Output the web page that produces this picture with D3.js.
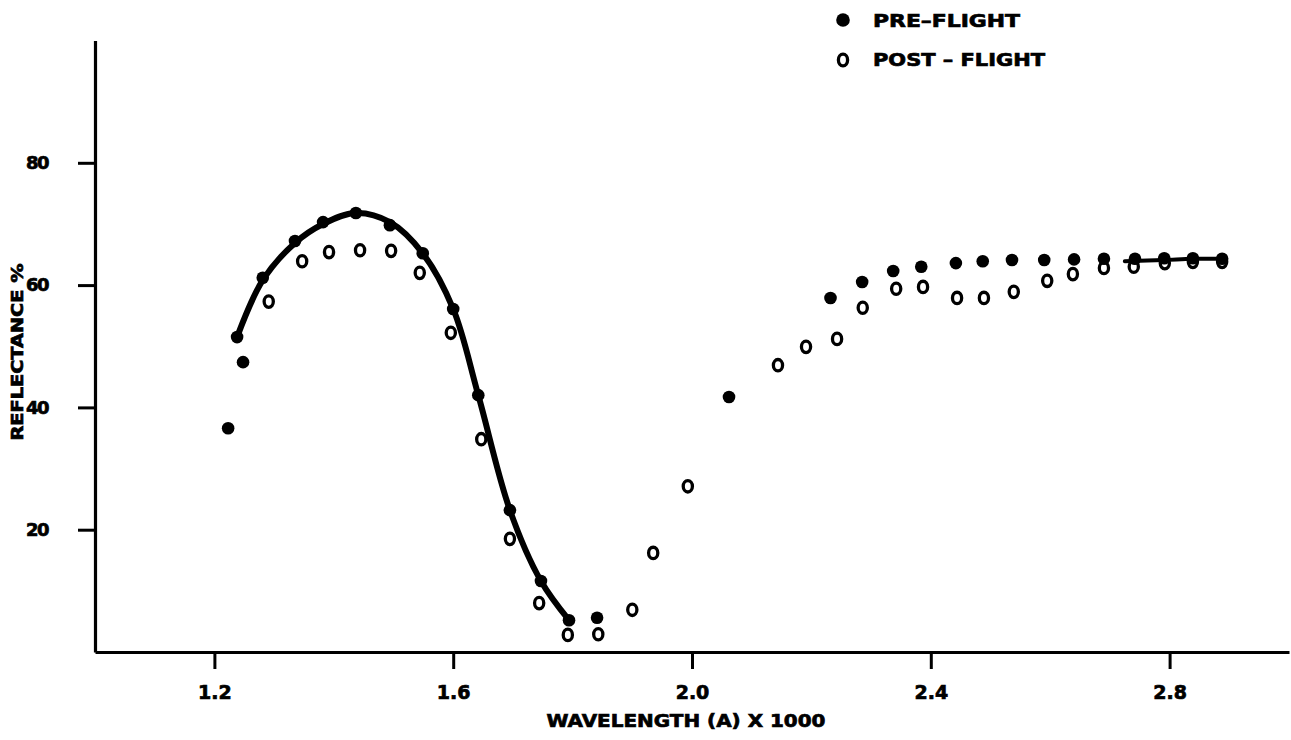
<!DOCTYPE html>
<html>
<head>
<meta charset="utf-8">
<script src="https://cdn.jsdelivr.net/npm/d3@7"></script>
<style>
  body { margin: 0; background: #fff; }
  svg { display: block; }
  text { font-family: "DejaVu Sans", sans-serif; font-weight: bold; fill: #000; stroke: #000; stroke-width: 0.7px; }
</style>
</head>
<body>
<svg id="chart" width="1291" height="740"></svg>
<script>
// wavelength (A x 1000) / reflectance % before flight
const preWave = [1.223, 1.238, 1.248, 1.281, 1.335, 1.382, 1.437, 1.494, 1.549, 1.600,
  1.642, 1.695, 1.747, 1.794, 1.841, 2.062, 2.232, 2.285, 2.337, 2.384,
  2.442, 2.487, 2.536, 2.590, 2.640, 2.690, 2.742, 2.791, 2.839, 2.888];
const preRefl = [36.6, 51.5, 47.4, 61.2, 67.2, 70.3, 71.8, 69.8, 65.2, 56.1,
  42.0, 23.2, 11.6, 5.2, 5.6, 41.7, 57.9, 60.5, 62.3, 63.0,
  63.6, 63.9, 64.1, 64.1, 64.2, 64.3, 64.3, 64.4, 64.4, 64.3];

// after flight
const postWave = [1.291, 1.347, 1.392, 1.444, 1.496, 1.544, 1.596, 1.647, 1.695, 1.744,
  1.792, 1.843, 1.900, 1.935, 1.993, 2.144, 2.191, 2.243, 2.286, 2.342,
  2.387, 2.444, 2.489, 2.539, 2.595, 2.638, 2.690, 2.740, 2.792, 2.839, 2.888];
const postRefl = [57.3, 63.9, 65.4, 65.7, 65.6, 62.0, 52.2, 34.8, 18.5, 8.0,
  2.8, 2.9, 6.9, 16.2, 27.1, 46.9, 49.9, 51.2, 56.3, 59.4,
  59.7, 57.9, 57.9, 58.9, 60.7, 61.8, 62.8, 63.0, 63.6, 63.8, 63.8];

// hand-drawn fit through the pre-flight points (two visible pieces)
const fitWaveA = [1.238, 1.281, 1.335, 1.382, 1.437, 1.494, 1.549, 1.600, 1.642, 1.695, 1.747, 1.794];
const fitReflA = [51.5, 60.8, 66.9, 70.0, 71.8, 70.3, 65.2, 56.1, 42.0, 23.2, 11.6, 5.2];
const fitWaveB = [2.725, 2.791, 2.839, 2.888];
const fitReflB = [63.9, 64.1, 64.3, 64.3];

const xTicks = [1.2, 1.6, 2.0, 2.4, 2.8];
const yTicks = [20, 40, 60, 80];
const legendLabels = ["PRE\u2013FLIGHT", "POST \u2013 FLIGHT"];

const svg = d3.select("#chart");

const x = d3.scaleLinear().domain([1.0, 3.0]).range([95, 1289]);
const y = d3.scaleLinear().domain([0, 100]).range([652, 40.5]);

// axes
const xAxis = svg.append("g")
  .attr("transform", `translate(0,${y(0)})`)
  .call(d3.axisBottom(x).tickValues(xTicks).tickFormat(d3.format(".1f"))
    .tickSize(17).tickSizeOuter(0).tickPadding(9));
const yAxis = svg.append("g")
  .attr("transform", `translate(${x(1.0)},0)`)
  .call(d3.axisLeft(y).tickValues(yTicks).tickSize(17).tickSizeOuter(0).tickPadding(30));

[xAxis, yAxis].forEach(g => {
  g.select(".domain").attr("stroke", "#000").attr("stroke-width", 3.2);
  g.selectAll(".tick line").attr("stroke", "#000").attr("stroke-width", 3);
  g.selectAll(".tick text").attr("fill", "#000").attr("stroke", "#000").attr("stroke-width", 0.7)
    .style("font-family", "'DejaVu Sans', sans-serif").style("font-weight", "bold");
});
xAxis.selectAll(".tick text").style("font-size", "19px").attr("dy", "1.1em");
yAxis.selectAll(".tick text").style("font-size", "18px").attr("letter-spacing", -1.5);

// axis titles
svg.append("text")
  .attr("x", 686).attr("y", 727)
  .attr("text-anchor", "middle")
  .attr("textLength", 279).attr("lengthAdjust", "spacingAndGlyphs")
  .style("font-size", "18px")
  .text("WAVELENGTH (A) X 1000");

svg.append("text")
  .attr("transform", "translate(23,352) rotate(-90)")
  .attr("text-anchor", "middle")
  .attr("textLength", 177).attr("lengthAdjust", "spacingAndGlyphs")
  .style("font-size", "15px")
  .text("REFLECTANCE %");

// fitted curve
const line = d3.line()
  .x(d => x(d[0]))
  .y(d => y(d[1]))
  .curve(d3.curveCatmullRom.alpha(0.5));

svg.append("path")
  .datum(d3.zip(fitWaveA, fitReflA))
  .attr("fill", "none").attr("stroke", "#000")
  .attr("stroke-width", 6).attr("stroke-linecap", "round")
  .attr("d", line);

svg.append("path")
  .datum(d3.zip(fitWaveB, fitReflB))
  .attr("fill", "none").attr("stroke", "#000")
  .attr("stroke-width", 4).attr("stroke-linecap", "round")
  .attr("d", line);

// markers
svg.append("g").selectAll("ellipse")
  .data(d3.zip(postWave, postRefl))
  .join("ellipse")
  .attr("cx", d => x(d[0])).attr("cy", d => y(d[1]))
  .attr("rx", 4.6).attr("ry", 5.7)
  .attr("fill", "none").attr("stroke", "#000").attr("stroke-width", 3.3);

svg.append("g").selectAll("circle")
  .data(d3.zip(preWave, preRefl))
  .join("circle")
  .attr("cx", d => x(d[0])).attr("cy", d => y(d[1]))
  .attr("r", 6.3).attr("fill", "#000");

// legend
const legend = svg.append("g");
legend.append("circle").attr("cx", 843).attr("cy", 20).attr("r", 6.8).attr("fill", "#000");
legend.append("ellipse").attr("cx", 843).attr("cy", 60).attr("rx", 4.6).attr("ry", 5.8)
  .attr("fill", "none").attr("stroke", "#000").attr("stroke-width", 3.3);
legend.selectAll("text")
  .data(legendLabels)
  .join("text")
  .attr("x", 873).attr("y", (d, i) => 27 + i * 39)
  .attr("textLength", (d, i) => i === 0 ? 147 : 172)
  .attr("lengthAdjust", "spacingAndGlyphs")
  .style("font-size", "18px")
  .text(d => d);
</script>
</body>
</html>
